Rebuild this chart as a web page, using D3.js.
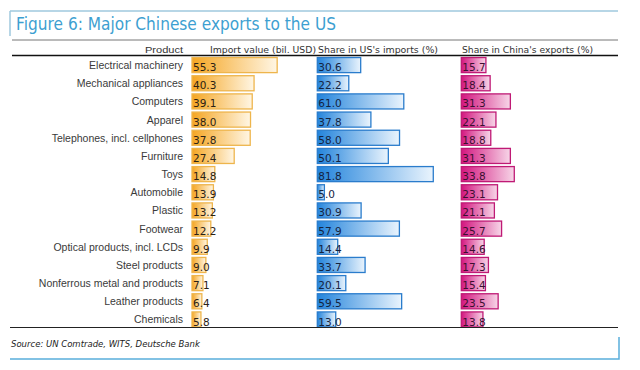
<!DOCTYPE html>
<html>
<head>
<meta charset="utf-8">
<script src="https://cdn.jsdelivr.net/npm/d3@7/dist/d3.min.js"></script>
<style>
  body { margin: 0; background: #fff; }
  svg { display: block; font-family: "DejaVu Sans", Verdana, sans-serif; }
</style>
</head>
<body>
<div id="chart"></div>
<script>
// --- data ---
const products = [
  "Electrical machinery", "Mechanical appliances", "Computers", "Apparel",
  "Telephones, incl. cellphones", "Furniture", "Toys", "Automobile", "Plastic",
  "Footwear", "Optical products, incl. LCDs", "Steel products",
  "Nonferrous metal and products", "Leather products", "Chemicals"
];
const importValue = [55.3, 40.3, 39.1, 38.0, 37.8, 27.4, 14.8, 13.9, 13.2, 12.2, 9.9, 9.0, 7.1, 6.4, 5.8];
const shareUS = [30.6, 22.2, 61.0, 37.8, 58.0, 50.1, 81.8, 5.0, 30.9, 57.9, 14.4, 33.7, 20.1, 59.5, 13.0];
const shareChina = [15.7, 18.4, 31.3, 22.1, 18.8, 31.3, 33.8, 23.1, 21.1, 25.7, 14.6, 17.3, 15.4, 23.5, 13.8];
const headers = ["Product", "Import value (bil. USD)", "Share in US's imports (%)", "Share in China's exports (%)"];

const W = 640, H = 370;
const svg = d3.select("#chart").append("svg").attr("width", W).attr("height", H);

// title box
const frameBlue = "#5aaedb";
svg.append("line").attr("x1", 10).attr("x2", 618).attr("y1", 11).attr("y2", 11)
  .attr("stroke", "#9fc9de").attr("stroke-width", 1.5);
svg.append("line").attr("x1", 10).attr("x2", 10).attr("y1", 11).attr("y2", 36)
  .attr("stroke", "#9fc9de").attr("stroke-width", 1.5);
svg.append("text").attr("x", 16).attr("y", 30)
  .attr("font-size", 17).attr("fill", "#3d9fd1")
  .attr("textLength", 320).attr("lengthAdjust", "spacingAndGlyphs")
  .text("Figure 6: Major Chinese exports to the US");

// header
svg.append("line").attr("x1", 12).attr("x2", 618).attr("y1", 40).attr("y2", 40)
  .attr("stroke", "#777").attr("stroke-width", 1);
svg.append("line").attr("x1", 12).attr("x2", 618).attr("y1", 55.5).attr("y2", 55.5)
  .attr("stroke", "#111").attr("stroke-width", 1.6);

// scales
const y = d3.scaleBand().domain(products).range([56, 56 + 15 * 18.17])
  .paddingInner(0.17).paddingOuter(0.085);

const columns = [
  { values: importValue, x: d3.scaleLinear().domain([0, 60]).range([192, 284.4]),
    c0: "#f5a623", c1: "#fff6e4", stroke: "#eeb54c", text: "#2b2214", id: "gOrange",
    head: headers[1], hx: 210, hw: 106 },
  { values: shareUS, x: d3.scaleLinear().domain([0, 90]).range([317.3, 444.9]),
    c0: "#2384dc", c1: "#eaf4fd", stroke: "#2a7ccc", text: "#14233f", id: "gBlue",
    head: headers[2], hx: 318, hw: 120 },
  { values: shareChina, x: d3.scaleLinear().domain([0, 40]).range([461.3, 524]),
    c0: "#d3167f", c1: "#f7d6e8", stroke: "#bf1a75", text: "#3a1030", id: "gPink",
    head: headers[3], hx: 462, hw: 131 }
];

const defs = svg.append("defs");
columns.forEach(col => {
  const g = defs.append("linearGradient").attr("id", col.id)
    .attr("x1", "0%").attr("x2", "100%").attr("y1", "0%").attr("y2", "0%");
  g.append("stop").attr("offset", "0%").attr("stop-color", col.c0);
  g.append("stop").attr("offset", "100%").attr("stop-color", col.c1);
});

// header texts
svg.append("text").attr("x", 183).attr("y", 53).attr("text-anchor", "end")
  .attr("font-size", 9.5).attr("fill", "#333")
  .attr("font-family", "'Liberation Sans', Arial, sans-serif")
  .attr("textLength", 38).attr("lengthAdjust", "spacingAndGlyphs")
  .text(headers[0]);
columns.forEach(col => {
  svg.append("text").attr("x", col.hx).attr("y", 53)
    .attr("font-size", 9.5).attr("fill", "#333")
    .attr("textLength", col.hw).attr("lengthAdjust", "spacingAndGlyphs")
    .text(col.head);
});

// category labels
svg.append("g").selectAll("text").data(products).join("text")
  .attr("x", 183)
  .attr("y", d => y(d) + y.bandwidth() / 2 + 4)
  .attr("text-anchor", "end")
  .attr("font-family", "'Liberation Sans', Arial, sans-serif")
  .attr("font-size", 10.5)
  .attr("fill", "#3a3a3a")
  .text(d => d);

// bars + value labels
columns.forEach(col => {
  const g = svg.append("g");
  g.selectAll("rect").data(products).join("rect")
    .attr("x", col.x(0))
    .attr("y", d => y(d))
    .attr("width", (d, i) => col.x(col.values[i]) - col.x(0))
    .attr("height", y.bandwidth())
    .attr("fill", `url(#${col.id})`)
    .attr("stroke", col.stroke)
    .attr("stroke-width", 1.3);
  g.selectAll("text").data(products).join("text")
    .attr("x", col.x(0) + 1)
    .attr("y", d => y(d) + y.bandwidth() - 1.5)
    .attr("font-size", 10.5)
    .attr("fill", col.text)
    .text((d, i) => col.values[i].toFixed(1));
});

// bottom rule + source box
svg.append("line").attr("x1", 10).attr("x2", 618).attr("y1", 327.5).attr("y2", 327.5)
  .attr("stroke", "#222").attr("stroke-width", 1);
svg.append("text").attr("x", 11).attr("y", 347)
  .attr("font-size", 8.5).attr("font-style", "italic").attr("fill", "#222")
  .text("Source: UN Comtrade, WITS, Deutsche Bank");
svg.append("polyline")
  .attr("points", "10,359 619,359 619,337")
  .attr("fill", "none").attr("stroke", frameBlue).attr("stroke-width", 1.5);
</script>
</body>
</html>
